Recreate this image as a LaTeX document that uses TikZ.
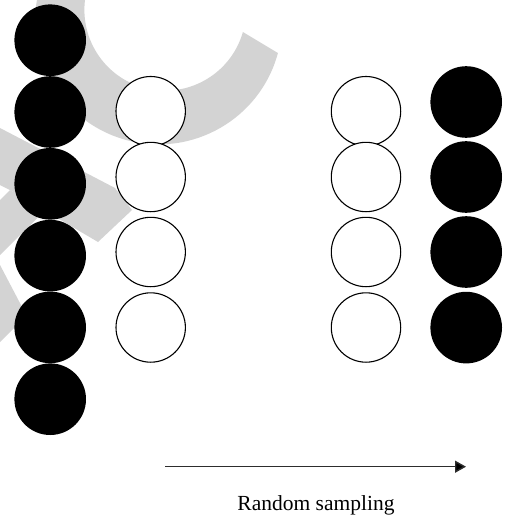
\documentclass[tikz,border=0pt]{standalone}
\usepackage{fontspec}
\setmainfont{Liberation Serif}
\usetikzlibrary{arrows.meta}
\definecolor{wm}{RGB}{211,211,211}
\definecolor{arrowgray}{RGB}{45,45,45}
\tikzset{
  blackball/.style={circle, fill=black, draw=none, inner sep=0pt, minimum size=71.6pt},
  whiteball/.style={circle, fill=white, draw=black, line width=1.1pt, inner sep=0pt, minimum size=69.4pt},
  samplearrow/.style={draw=arrowgray, line width=1.4pt, -{Triangle[length=11pt,width=12pt,fill=black]}},
  lbl/.style={font=\fontsize{21.5}{24}\selectfont, anchor=base, inner sep=0pt}
}
\begin{document}
\begin{tikzpicture}[x=1pt,y=1pt]
\useasboundingbox (0,0) rectangle (505,-519);
% background watermark
\begin{scope}
\clip (0,0) rectangle (505,-519);
\fill[wm] (39.4,11.1) arc[start angle=165, end angle=344.9, radius=123.5]
  -- (242.9,-32) arc[start angle=344.1, end angle=165, radius=80.8] -- cycle;
\fill[wm] (0,-128) -- (115,-188) -- (132,-210) -- (98,-242) -- (10,-190) -- (0,-185) -- cycle;
\fill[wm] (0,-200) -- (10,-190) -- (45,-210.5) -- (0,-255) -- cycle;
\fill[wm] (0,-265) -- (26.5,-315.5) -- (0,-342) -- cycle;
\end{scope}
% left black column
\node[blackball] (lb1) at (50.2,-40.2) {};
\node[blackball] (lb2) at (50.2,-112) {};
\node[blackball] (lb3) at (50.2,-183.8) {};
\node[blackball] (lb4) at (50.2,-255.6) {};
\node[blackball] (lb5) at (50.2,-327.4) {};
\node[blackball] (lb6) at (50.2,-399.2) {};
% left white column
\node[whiteball] (lw1) at (150.7,-111.2) {};
\node[whiteball] (lw2) at (150.7,-177) {};
\node[whiteball] (lw3) at (150.7,-252) {};
\node[whiteball] (lw4) at (150.7,-327.5) {};
% right white column
\node[whiteball] (rw1) at (366,-111.2) {};
\node[whiteball] (rw2) at (366,-177) {};
\node[whiteball] (rw3) at (366,-252) {};
\node[whiteball] (rw4) at (366,-327.5) {};
% right black column
\node[blackball] (rb1) at (466.2,-102) {};
\node[blackball] (rb2) at (466.2,-177) {};
\node[blackball] (rb3) at (466.2,-252) {};
\node[blackball] (rb4) at (466.2,-327.6) {};
% arrow and label
\coordinate (as) at (165,-466.7);
\coordinate (ae) at (466,-466.7);
\draw[samplearrow] (as) -- (ae);
\node[lbl] (label) at (316,-510) {Random sampling};
\end{tikzpicture}
\end{document}
